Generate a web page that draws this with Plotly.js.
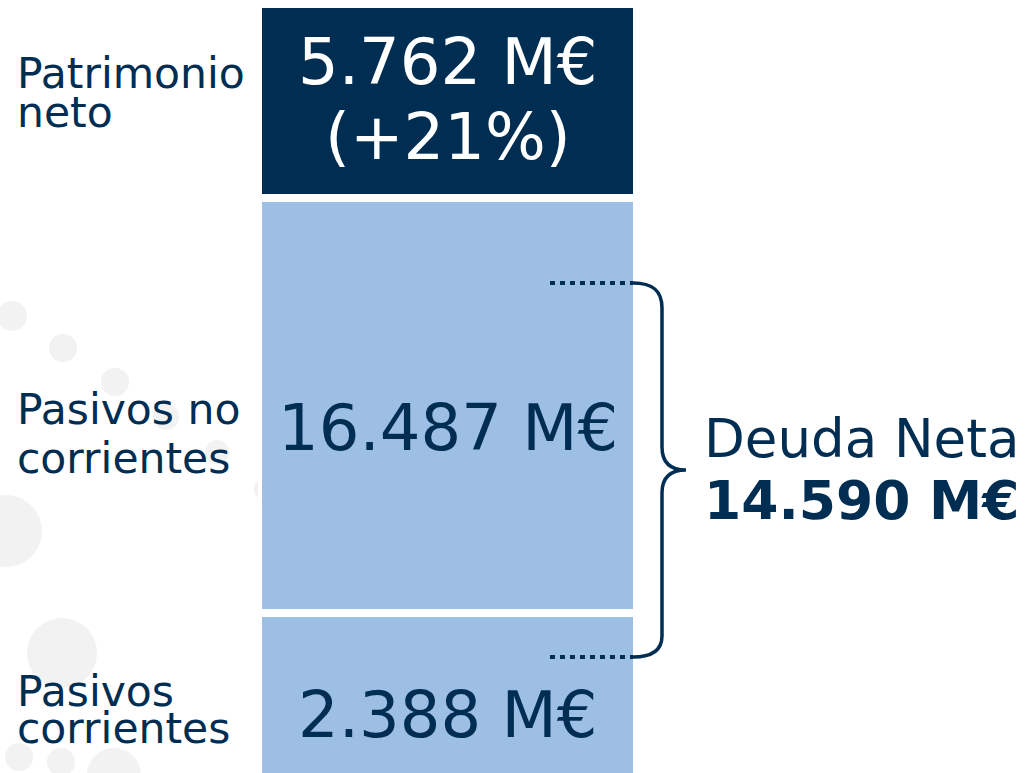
<!DOCTYPE html>
<html>
<head>
<meta charset="utf-8">
<script src="https://cdn.plot.ly/plotly-3.0.1.min.js"></script>
<style>
  html, body { margin: 0; padding: 0; background: #ffffff; }
  #chart { width: 1034px; height: 773px; }
</style>
</head>
<body>
<div id="chart"></div>
<script>
// ---- data (bottom to top) ----
const categories = ['Pasivos corrientes', 'Pasivos no corrientes', 'Patrimonio neto'];
const categoryLines = [['Pasivos', 'corrientes'], ['Pasivos no', 'corrientes'], ['Patrimonio', 'neto']];
const valuesMEUR = [2388, 16487, 5762];
const changePct = [null, null, 21];
// schematic block sizes as drawn in the picture (not proportional to the values)
const blockSizes = [164, 415.5, 193.5];
const netDebtLabel = 'Deuda Neta';
const netDebtMEUR = 14590;

// ---- style ----
const NAVY = '#002D52';
const LIGHT = '#9EBFE4';
const CIRCLE = '#F2F2F2';
const FONT = 'DejaVu Sans, Verdana, sans-serif';
const W = 1034, H = 773;
const Y_TOP = 777;               // y-axis value at the top edge of the page

function fmt(v) { return String(v).replace(/\B(?=(\d{3})+(?!\d))/g, '.'); }
function yAt(py) { return Y_TOP - py; }          // page row -> y-axis value
function px(x) { return x / W; }                 // page column -> paper x
function pyP(y) { return 1 - y / H; }            // page row -> paper y

const barColors = [LIGHT, LIGHT, NAVY];
const traces = categories.map((c, i) => ({
  type: 'bar',
  name: c,
  x: ['Balance'],
  y: [blockSizes[i]],
  marker: { color: barColors[i], line: { color: '#ffffff', width: 8 } },
  hoverinfo: 'skip'
}));

// ---- text annotations ----
const annotations = [];
// left category labels (tight line spacing: base size sets the line pitch)
const LABEL_SIZE = 42.5;
const labelTop = [664.6, 382.6, 46.6];
const labelPitchBase = [28.5, 37.7, 30];
categoryLines.forEach((lines, i) => {
  const txt = lines.map(t => '<span style="font-size:' + LABEL_SIZE + 'px">' + t + '</span>').join('<br>');
  annotations.push({
    xref: 'paper', yref: 'y', x: px(15), y: yAt(labelTop[i]),
    xanchor: 'left', yanchor: 'top', align: 'left', showarrow: false, text: txt,
    font: { family: FONT, size: labelPitchBase[i], color: NAVY }
  });
});
// values inside the blocks
const valueRows = [[714.7], [427.7], [61.7, 137.2]];
valuesMEUR.forEach((v, i) => {
  const lines = [fmt(v) + ' M€'];
  if (changePct[i] !== null) lines.push('(+' + changePct[i] + '%)');
  lines.forEach((t, j) => {
    annotations.push({
      xref: 'x', yref: 'y', x: 0, y: yAt(valueRows[i][j]),
      xanchor: 'center', yanchor: 'middle', showarrow: false, text: t,
      font: { family: FONT, size: 64, color: i === 2 ? '#ffffff' : NAVY }
    });
  });
});
// net debt
annotations.push({
  xref: 'paper', yref: 'y', x: px(702), y: yAt(438),
  xanchor: 'left', yanchor: 'middle', showarrow: false, text: netDebtLabel,
  font: { family: FONT, size: 53, color: NAVY }
});
annotations.push({
  xref: 'paper', yref: 'y', x: px(702), y: yAt(500),
  xanchor: 'left', yanchor: 'middle', showarrow: false, text: '<b>' + fmt(netDebtMEUR) + ' M€</b>',
  font: { family: FONT, size: 53.5, color: NAVY }
});

// ---- decorative shapes ----
const shapes = [];
const circles = [
  [12, 316, 15], [63, 348, 14], [115, 382, 14], [166, 417, 13], [217, 452, 12], [266, 489, 12],
  [6, 531, 36], [62, 653, 35], [19, 757, 14], [61, 762, 14], [114, 775, 27], [392, 632, 18]
];
circles.forEach(([cx, cy, r]) => {
  shapes.push({
    type: 'circle', layer: 'below', xref: 'paper', yref: 'paper',
    x0: px(cx - r), x1: px(cx + r), y0: pyP(cy + r), y1: pyP(cy - r),
    fillcolor: CIRCLE, line: { width: 0 }
  });
});
// dotted leaders
[283, 657].forEach(py => {
  shapes.push({
    type: 'line', layer: 'above', xref: 'paper', yref: 'paper',
    x0: px(550), x1: px(633), y0: pyP(py), y1: pyP(py),
    line: { color: NAVY, width: 4, dash: '5px,5px' }
  });
});
// curly brace
function P(x, y) { return px(x).toFixed(5) + ',' + pyP(y).toFixed(5); }
const bracePath =
  'M' + P(633, 283) +
  ' C' + P(652, 283) + ' ' + P(662, 290) + ' ' + P(662, 308) +
  ' L' + P(662, 447) +
  ' C' + P(662, 462) + ' ' + P(670, 470) + ' ' + P(686, 470) +
  ' C' + P(670, 470) + ' ' + P(662, 478) + ' ' + P(662, 493) +
  ' L' + P(662, 636) +
  ' C' + P(662, 650) + ' ' + P(652, 657) + ' ' + P(633, 657);
shapes.push({
  type: 'path', layer: 'above', xref: 'paper', yref: 'paper',
  path: bracePath, line: { color: NAVY, width: 3.5 }
});

const layout = {
  width: W, height: H,
  margin: { l: 0, r: 0, t: 0, b: 0, pad: 0 },
  paper_bgcolor: '#ffffff', plot_bgcolor: 'rgba(0,0,0,0)',
  barmode: 'stack', bargap: 0, showlegend: false,
  xaxis: { domain: [px(258), px(637)], range: [-0.5, 0.5], visible: false, fixedrange: true },
  yaxis: { domain: [0, 1], range: [yAt(H), yAt(0)], visible: false, fixedrange: true },
  annotations: annotations,
  shapes: shapes
};

Plotly.newPlot('chart', traces, layout, { displayModeBar: false, staticPlot: true });
</script>
</body>
</html>
